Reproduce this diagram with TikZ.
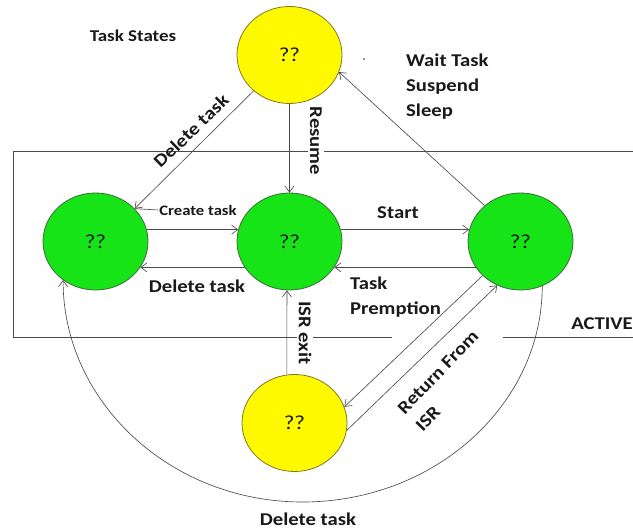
\documentclass[tikz,border=0pt]{standalone}
\usepackage{fontspec}
\setmainfont{Carlito}
\newfontfamily\lblfont[FakeStretch=1.15]{Carlito}
\usetikzlibrary{shapes.geometric,arrows.meta}
\definecolor{stategreen}{RGB}{22,228,22}
\definecolor{greenline}{RGB}{60,105,60}
\definecolor{stateyellow}{RGB}{255,250,0}
\definecolor{yellowline}{RGB}{125,120,40}
\definecolor{wire}{RGB}{75,75,75}
\definecolor{ink}{RGB}{25,25,25}
\begin{document}
\begin{tikzpicture}[x=1pt,y=-1pt,
  state/.style={ellipse,minimum width=105pt,minimum height=97pt,inner sep=0pt,line width=0.8pt,
     font=\lblfont\fontsize{20}{23}\selectfont,text=ink},
  gstate/.style={state,draw=greenline,fill=stategreen},
  ystate/.style={state,draw=yellowline,fill=stateyellow},
  arr/.style={draw=wire,line width=0.65pt,-{Straight Barb[length=6pt,width=9pt]}},
  plain/.style={draw=wire,line width=0.65pt},
  lbl/.style={font=\lblfont\bfseries\fontsize{18}{25}\selectfont,text=ink,inner sep=1pt},
  slbl/.style={font=\lblfont\bfseries\fontsize{16.5}{20}\selectfont,text=ink,inner sep=1pt},
  cut/.style={lbl,fill=white,inner sep=2pt}
]
\useasboundingbox (0,0) rectangle (633,529);

% ACTIVE region
\draw[plain] (633,151) -- (13,151) -- (13,337) -- (392,337);
\draw[plain] (503,337) -- (633,337);

% states
\node[ystate] (T) at (289.5,55) {??};
\node[gstate] (L) at (95.5,241.5) {??};
\node[gstate] (M) at (289.5,241.5) {??};
\node[gstate] (R) at (520.5,241.5) {??};
\node[ystate] (B) at (294.5,423) {??};

% arrows
\draw[arr] (T.225) -- (L.40);
\draw[arr] (T.south) -- (M.north);
\draw[arr] (L.13) -- (M.167);
\draw[arr] (M.210) -- (L.-30);
\draw[arr] (M.13) -- (R.167);
\draw[arr] (R.210) -- (M.-30);
\draw[arr] (R.135) -- (T.-19);
\draw[arr] (R.222) -- (B.18);
\draw[arr] (B.-8) -- (R.242);
\draw[arr] (B.99) -- (M.267);
\coordinate (arcb) at (302.5,502);
\draw[arr] (R.296) .. controls +(0,118) and +(133,0) .. (arcb)
            .. controls +(-133,0) and +(0,121) .. (L.230);

% labels
\node[slbl] at (133,36) {Task States};
\node[lbl,rotate=44] at (191,131) {Delete task};
\node[cut,rotate=-90] at (316,141) {Resume};
\node[font=\lblfont\bfseries\fontsize{14.5}{18}\selectfont,text=ink,inner sep=1pt] (ct) at (198,210) {Create task};
\draw[plain] (L.40) -- (ct.west);
\node[lbl] at (197,286) {Delete task};
\node[lbl] at (398,213) {Start};
\node[lbl,align=left,anchor=west] at (349,297.5) {Task\\Premption};
\node[lbl,align=left,anchor=west] at (405,87) {Wait Task\\Suspend\\Sleep};
\node[cut,rotate=-90] at (305,333) {ISR exit};
\node[lbl,align=left,rotate=46] at (447,381) {Return From\\ISR};
\node[lbl,anchor=east] at (634,324) {ACTIVE};
\node[lbl] at (308,519) {Delete task};
\fill[ink] (364,59) circle (0.8pt);
\end{tikzpicture}
\end{document}
